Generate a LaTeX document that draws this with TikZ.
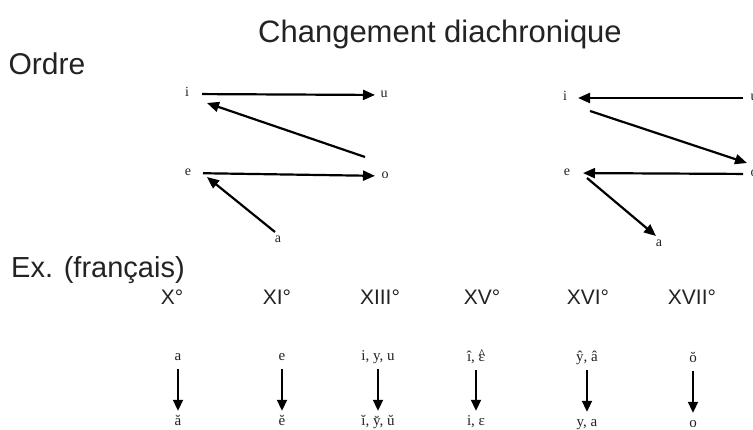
\documentclass[tikz,border=0pt]{standalone}
\usepackage{fontspec}
\setmainfont{Liberation Serif}
\newfontfamily\hv{Liberation Sans}
\usetikzlibrary{arrows.meta,calc}
\definecolor{ink}{RGB}{35,35,35}
\newcommand\circeps{\ooalign{ε\cr\hidewidth\raisebox{2.5pt}{\^{}}\hidewidth\cr}}
\tikzset{
  big/.style={font=\hv\fontsize{30}{34}\selectfont, text=ink, inner sep=0pt},
  cent/.style={font=\hv\fontsize{21}{24}\selectfont, text=ink, inner sep=0pt},
  vow/.style={font=\fontsize{14}{17}\selectfont, text=ink, inner sep=0pt, text height=8pt, text depth=2pt},
  lab/.style={font=\fontsize{15}{17}\selectfont, text=ink, inner sep=0pt, text height=8pt, text depth=2pt},
  arr/.style={line width=2.2pt, -{Triangle[length=12pt,width=10pt]}},
  varr/.style={line width=2pt, -{Triangle[length=11pt,width=10pt]}, shorten <=6pt, shorten >=7pt},
}
\begin{document}
\begin{tikzpicture}[x=1pt,y=-1pt]
\useasboundingbox[fill=white] (0,0) rectangle (753,430);
% headings
\node[big, font=\hv\fontsize{31}{36}\selectfont] (title) at (440,34) {Changement diachronique};
\node[big] (ordre) at (47,64) {Ordre};
\node[big, anchor=west, font=\hv\fontsize{29}{33}\selectfont] (ex) at (11,270) {Ex. (français)};
% left diagram
\node[vow] (iL) at (187,94) {i};
\node[vow] (uL) at (384,95) {u};
\node[vow] (eL) at (188,173) {e};
\node[vow] (oL) at (385,176) {o};
\node[vow] (aL) at (278,240) {a};
\draw[arr, shorten <=15pt, shorten >=9pt] (iL.center) -- (uL.center);
\draw[arr, shorten <=15pt, shorten >=10pt] (eL.center) -- (oL.center);
\draw[arr] ([shift={(-20,-19)}]oL.center) -- ([shift={(20,9)}]iL.center);
\draw[arr] ([shift={(-3,-8)}]aL.center) -- ([shift={(19,4)}]eL.center);
% right diagram
\node[vow] (iR) at (565,98) {i};
\node[vow] (uR) at (754,98) {u};
\node[vow] (eR) at (567,173) {e};
\node[vow] (oR) at (754,174) {o};
\node[vow] (aR) at (659,244) {a};
\draw[arr, shorten <=11pt, shorten >=13pt] (uR.center) -- (iR.center);
\draw[arr, shorten <=11pt, shorten >=16pt] (oR.center) -- (eR.center);
\draw[arr] ([shift={(25,13)}]iR.center) -- ([shift={(-7,-11)}]oR.center);
\draw[arr] ([shift={(20,5)}]eR.center) -- ([shift={(-3,-8)}]aR.center);
% centuries
\node[cent] (c1) at (172,297) {X°};
\node[cent] (c2) at (277,297) {XI°};
\node[cent] (c3) at (380,297) {XIII°};
\node[cent] (c4) at (482,297) {XV°};
\node[cent] (c5) at (588,297) {XVI°};
\node[cent] (c6) at (692,297) {XVII°};
% examples
\node[lab] (t1) at (178,358) {a};
\node[lab] (t2) at (282,358) {e};
\node[lab] (t3) at (378,358) {i,\ y,\ u};
\node[lab] (t4) at (476,359) {î,\ \circeps};
\node[lab] (t5) at (587,359) {ŷ,\ â};
\node[lab] (t6) at (693,360) {ŏ};
\node[lab] (b1) at (178,423) {ă};
\node[lab] (b2) at (282,423) {ĕ};
\node[lab] (b3) at (378,423) {ĭ,\ y̆,\ ŭ};
\node[lab] (b4) at (476,423) {i,\ ε};
\node[lab] (b5) at (587,424) {y,\ a};
\node[lab] (b6) at (693,425) {o};
\foreach \k in {1,...,6} { \draw[varr] (t\k) -- (b\k); }
\end{tikzpicture}
\end{document}
